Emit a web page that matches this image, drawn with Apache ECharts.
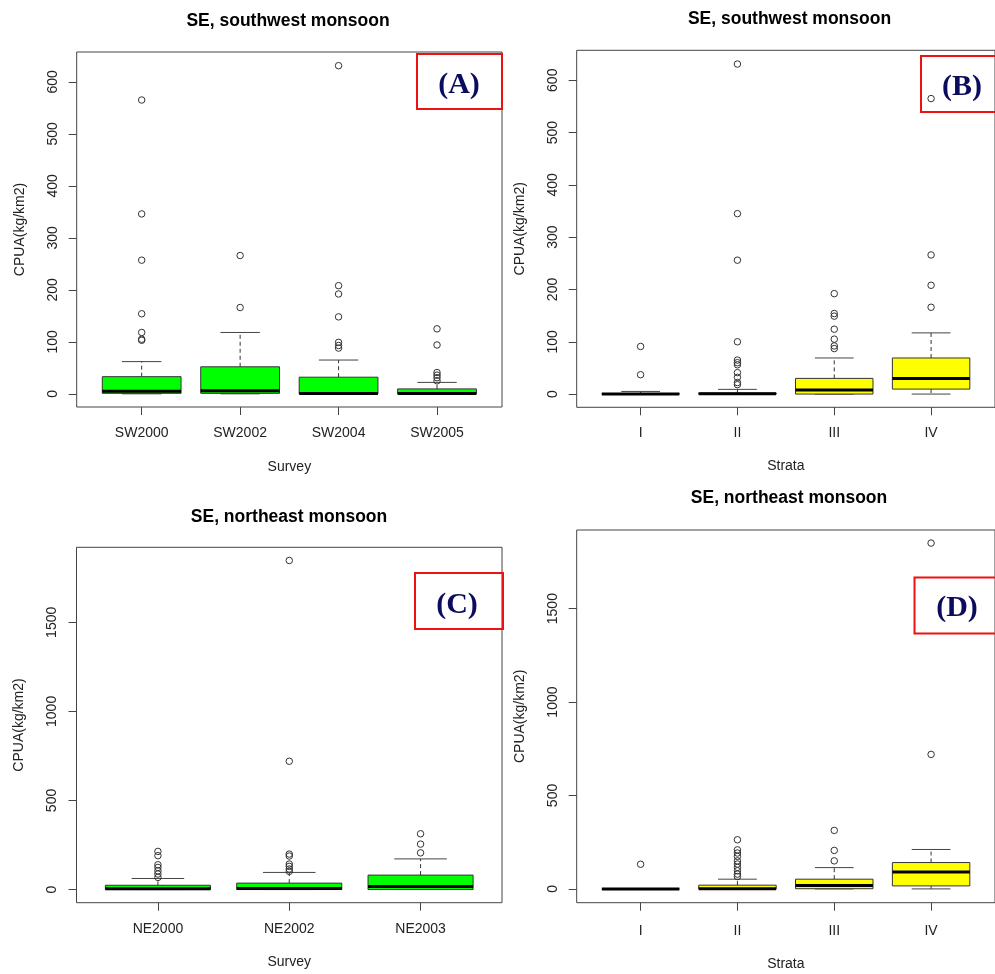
<!DOCTYPE html>
<html><head><meta charset="utf-8">
<script src="https://cdn.jsdelivr.net/npm/echarts@6/dist/echarts.min.js"></script>
<style>html,body{margin:0;padding:0;background:#fff}#c{width:995px;height:974px}</style>
</head><body><div id="c"></div>
<script>
// ---------- DATA ----------
// stats per box: [lowerWhisker, Q1, median, Q3, upperWhisker]
const catsA = ['SW2000', 'SW2002', 'SW2004', 'SW2005'];
const statsA = [[0, 1, 5, 33, 62], [0, 1, 6, 52, 118], [0, 0, 0.5, 32, 65], [0, 0, 0.5, 9.5, 22]];
const outA = [[565, 346, 257, 154, 118, 105, 103], [266, 166], [631, 208, 192, 148, 99, 93, 88], [125, 94, 41, 36, 31, 25]];

const catsB = ['I', 'II', 'III', 'IV'];
const statsB = [[0, 0, 0, 1, 5], [0, 0, 0.5, 2, 9], [0, 0, 8, 30, 69], [0, 9.5, 30, 69, 117]];
const outB = [[91, 37], [631, 345, 256, 100, 65, 60, 56, 41, 32, 22, 18], [192, 154, 149, 124, 105, 92, 87], [565, 266, 208, 166]];

const catsC = ['NE2000', 'NE2002', 'NE2003'];
const statsC = [[0, 0, 5, 24, 62], [0, 0, 6, 36, 96], [0, 0, 17, 81, 172]];
const outC = [[214, 190, 139, 124, 105, 87, 68], [1847, 720, 199, 188, 143, 130, 115, 102], [313, 255, 206]];

const catsD = ['I', 'II', 'III', 'IV'];
const statsD = [[0, 0, 0, 0, 0], [0, 0, 1, 20, 52], [0, 1, 18, 52, 114], [0, 16, 91, 141, 211]];
const outD = [[132], [263, 209, 192, 174, 150, 133, 115, 97, 79, 66], [313, 206, 150], [1851, 720]];

const ticksSW = [0, 100, 200, 300, 400, 500, 600];
const ticksNE = [0, 500, 1000, 1500];
const titles = ['SE, southwest monsoon', 'SE, southwest monsoon', 'SE, northeast monsoon', 'SE, northeast monsoon'];
const panelLabels = ['(A)', '(B)', '(C)', '(D)'];
const xNames = ['Survey', 'Strata', 'Survey', 'Strata'];
const yName = 'CPUA(kg/km2)';

// ---------- CHART ----------
const FONT = '"Liberation Sans", Arial, sans-serif';
const GREEN = '#00ff00', YELLOW = '#ffff00';

const panels = [
  {cats: catsA, stats: statsA, out: outA, fill: GREEN, ymin: -25.3, ymax: 657.3, yt: ticksSW,
   grid: {left: 76.7, top: 52, right: 493, bottom: 567}, lm: 19, ng: 53},
  {cats: catsB, stats: statsB, out: outB, fill: YELLOW, ymin: -25.3, ymax: 657.3, yt: ticksSW,
   grid: {left: 576.7, top: 50.3, right: -8, bottom: 566.7}, lm: 19, ng: 52},
  {cats: catsC, stats: statsC, out: outC, fill: GREEN, ymin: -73.9, ymax: 1921, yt: ticksNE,
   grid: {left: 76.5, top: 547.3, right: 493, bottom: 71.3}, lm: 19, ng: 52},
  {cats: catsD, stats: statsD, out: outD, fill: YELLOW, ymin: -73.9, ymax: 1921, yt: ticksNE,
   grid: {left: 576.7, top: 530, right: -7, bottom: 71.3}, lm: 21, ng: 54}
];

function boxRender(fill) {
  return function (params, api) {
    const x = api.value(0);
    const pLo = api.coord([x, api.value(1)]);
    const pQ1 = api.coord([x, api.value(2)]);
    const pMd = api.coord([x, api.value(3)]);
    const pQ3 = api.coord([x, api.value(4)]);
    const pHi = api.coord([x, api.value(5)]);
    const hw = api.size([0.4, 0])[0];
    const cw = api.size([0.2, 0])[0];
    const cx = pMd[0];
    const ch = [];
    const dash = {stroke: '#333', lineWidth: 1, lineDash: [4, 3]};
    const cap = {stroke: '#444', lineWidth: 1};
    ch.push({type: 'line', shape: {x1: cx, y1: pQ3[1], x2: cx, y2: pHi[1]}, style: dash});
    ch.push({type: 'line', shape: {x1: cx, y1: pQ1[1], x2: cx, y2: pLo[1]}, style: dash});
    ch.push({type: 'line', shape: {x1: cx - cw, y1: pHi[1], x2: cx + cw, y2: pHi[1]}, style: cap});
    ch.push({type: 'line', shape: {x1: cx - cw, y1: pLo[1], x2: cx + cw, y2: pLo[1]}, style: cap});
    ch.push({type: 'rect', shape: {x: cx - hw, y: pQ3[1], width: 2 * hw, height: pQ1[1] - pQ3[1]},
             style: {fill: fill, stroke: '#333', lineWidth: 1}});
    ch.push({type: 'line', shape: {x1: cx - hw, y1: pMd[1], x2: cx + hw, y2: pMd[1]},
             style: {stroke: '#000', lineWidth: 3}});
    return {type: 'group', children: ch};
  };
}

const option = {
  animation: false,
  backgroundColor: '#fff',
  title: [], grid: [], xAxis: [], yAxis: [], series: [], graphic: []
};

const titlePos = [[288, 12], [789.5, 10], [289, 508], [789, 489]];
const boxRects = [[417, 54, 85, 55], [921, 56, 80, 56], [415, 573, 88, 56], [914.5, 577.5, 90, 56]];
const labelPos = [[459, 85], [962, 87], [457, 605], [957, 608]];

panels.forEach((p, i) => {
  const n = p.cats.length;
  const ext = n * 0.04;
  option.title.push({
    text: titles[i], left: titlePos[i][0], top: titlePos[i][1], textAlign: 'center', padding: 0,
    textStyle: {fontFamily: FONT, fontWeight: 'bold', fontSize: 17.5, color: '#000'}
  });
  option.grid.push(Object.assign({show: true, borderColor: '#444', borderWidth: 1, backgroundColor: 'transparent'}, p.grid));
  option.xAxis.push({
    type: 'value', gridIndex: i, min: 0.5 - ext, max: n + 0.5 + ext, position: 'bottom',
    name: xNames[i], nameLocation: 'middle', nameGap: p.ng,
    nameTextStyle: {fontFamily: FONT, fontSize: 14, color: '#222'},
    axisLine: {show: false, onZero: false}, splitLine: {show: false},
    axisTick: {show: true, inside: false, length: 8, lineStyle: {color: '#444'}, customValues: p.cats.map((c, k) => k + 1)},
    axisLabel: {show: true, margin: p.lm, fontFamily: FONT, fontSize: 14, color: '#222',
      customValues: p.cats.map((c, k) => k + 1),
      formatter: v => p.cats[Math.round(v) - 1] || ''}
  });
  option.yAxis.push({
    type: 'value', gridIndex: i, min: p.ymin, max: p.ymax, position: 'left',
    name: yName, nameLocation: 'middle', nameGap: 50, nameRotate: 90,
    nameTextStyle: {fontFamily: FONT, fontSize: 14, color: '#222'},
    axisLine: {show: false, onZero: false}, splitLine: {show: false},
    axisTick: {show: true, inside: false, length: 8, lineStyle: {color: '#444'}, customValues: p.yt},
    axisLabel: {show: true, rotate: 90, margin: 17, fontFamily: FONT, fontSize: 14, color: '#222',
      customValues: p.yt, formatter: v => String(v)}
  });
  option.series.push({
    type: 'custom', xAxisIndex: i, yAxisIndex: i,
    renderItem: boxRender(p.fill),
    encode: {x: 0, y: [1, 2, 3, 4, 5]},
    data: p.stats.map((s, k) => [k + 1].concat(s)),
    clip: false
  });
  const pts = [];
  p.out.forEach((arr, k) => arr.forEach(v => pts.push([k + 1, v])));
  option.series.push({
    type: 'scatter', xAxisIndex: i, yAxisIndex: i, data: pts,
    symbol: 'circle', symbolSize: 6.5,
    itemStyle: {color: 'rgba(0,0,0,0)', borderColor: '#333', borderWidth: 1, opacity: 1}, z: 5
  });
  const r = boxRects[i];
  option.graphic.push({
    type: 'rect', shape: {x: r[0], y: r[1], width: r[2], height: r[3]},
    style: {fill: 'none', stroke: '#ee1111', lineWidth: 2}, z: 10
  });
  option.graphic.push({
    type: 'text', x: labelPos[i][0], y: labelPos[i][1],
    style: {text: panelLabels[i], font: 'bold 30px "Liberation Serif", "Times New Roman", serif',
      fill: '#0c0c5e', align: 'center', verticalAlign: 'middle'}, z: 11
  });
});

const chart = echarts.init(document.getElementById('c'), null, {renderer: 'canvas'});
chart.setOption(option);
</script>
</body></html>
